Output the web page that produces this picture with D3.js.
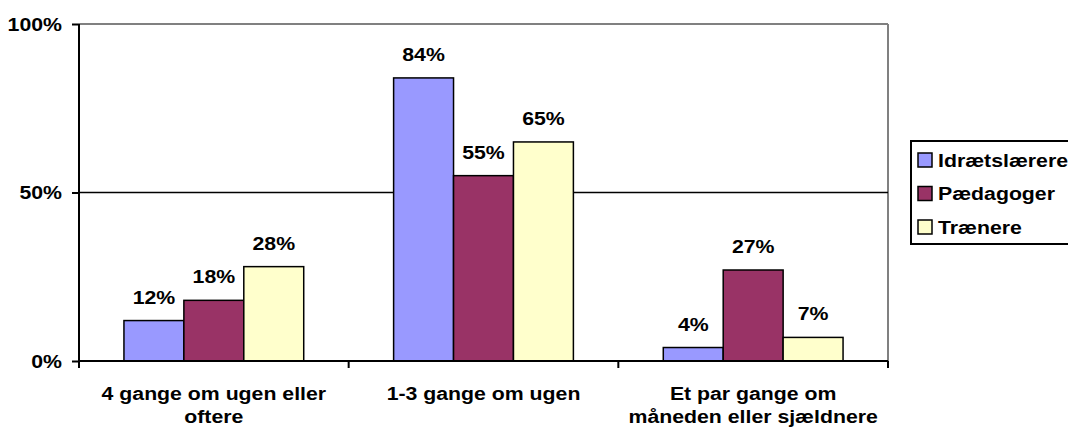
<!DOCTYPE html>
<html>
<head>
<meta charset="utf-8">
<script src="https://d3js.org/d3.v7.min.js"></script>
<style>
  body { margin: 0; background: #fff; }
  text { font-family: "Liberation Sans", Arial, sans-serif; font-weight: bold; fill: #000; font-size: 18.5px; }
</style>
</head>
<body>
<svg id="chart" width="1068" height="433"></svg>
<script>
// categories and series
var categories = [["4 gange om ugen eller", "oftere"], ["1-3 gange om ugen"], ["Et par gange om", "måneden eller sjældnere"]];
var seriesNames = ["Idrætslærere", "Pædagoger", "Trænere"];
var seriesColors = ["#9999FF", "#993366", "#FFFFCC"];
var idraet = [12, 84, 4];
var paedagoger = [18, 55, 27];
var traenere = [28, 65, 7];
var yTicks = [0, 50, 100];

var values = [idraet, paedagoger, traenere];

// the original text is a bit wider than Arial, stretch it horizontally
var stretch = 1.15;
function label(parent, px, py, lines, anchor, lineH) {
  var t = parent.append("g")
    .attr("transform", "translate(" + px + "," + py + ") scale(" + stretch + ",1)")
    .append("text")
    .attr("text-anchor", anchor);
  lines.forEach(function (ln, j) {
    t.append("tspan").attr("x", 0).attr("dy", j === 0 ? 0 : lineH).text(ln);
  });
  return t;
}

var svg = d3.select("#chart");
var margin = {left: 79, right: 1068 - 888, top: 24, bottom: 433 - 361};
var w = 1068 - margin.left - margin.right,
    h = 433 - margin.top - margin.bottom;

var g = svg.append("g").attr("transform", "translate(" + margin.left + "," + margin.top + ")");

var x = d3.scaleBand().domain(d3.range(categories.length)).range([0, w]).paddingInner(0).paddingOuter(0);
var x1 = d3.scaleBand().domain(d3.range(seriesNames.length)).range([x.bandwidth() / 6, x.bandwidth() * 5 / 6]);
var y = d3.scaleLinear().domain([0, 100]).range([h, 0]);

// plot border (top/right gray)
g.append("line").attr("x1", 0).attr("x2", w).attr("y1", 0).attr("y2", 0).attr("stroke", "#808080").attr("stroke-width", 2);
g.append("line").attr("x1", w).attr("x2", w).attr("y1", 0).attr("y2", h).attr("stroke", "#808080").attr("stroke-width", 2);

// gridline at 50%
g.append("line").attr("x1", 0).attr("x2", w).attr("y1", y(50)).attr("y2", y(50)).attr("stroke", "#000").attr("stroke-width", 1.5);

// bars
values.forEach(function (vals, si) {
  g.selectAll(".bar" + si)
    .data(vals)
    .enter().append("rect")
      .attr("x", function (d, i) { return x(i) + x1(si); })
      .attr("y", function (d) { return y(d); })
      .attr("width", x1.bandwidth())
      .attr("height", function (d) { return h - y(d); })
      .attr("fill", seriesColors[si])
      .attr("stroke", "#000")
      .attr("stroke-width", 1.5);

  vals.forEach(function (d, i) {
    label(g, x(i) + x1(si) + x1.bandwidth() / 2, y(d) - 17, [d + "%"], "middle", 0);
  });
});

// y axis
var yAxis = g.append("g").call(d3.axisLeft(y).tickValues(yTicks).tickSize(7).tickFormat(""));
yAxis.select(".domain").attr("stroke", "#000").attr("stroke-width", 2).attr("d", "M0," + h + "V0");
yAxis.selectAll(".tick line").attr("stroke", "#000").attr("stroke-width", 2);
yTicks.forEach(function (v) {
  label(g, -17, y(v) + 6.5, [v + "%"], "end", 0);
});

// x axis
var xg = g.append("g").attr("transform", "translate(0," + h + ")");
xg.append("line").attr("x1", 0).attr("x2", w).attr("stroke", "#000").attr("stroke-width", 2);
d3.range(categories.length + 1).forEach(function (i) {
  var xx = i < categories.length ? x(i) : w;
  xg.append("line").attr("x1", xx).attr("x2", xx).attr("y1", 0).attr("y2", 7).attr("stroke", "#000").attr("stroke-width", 2);
});
categories.forEach(function (lines, i) {
  label(xg, x(i) + x.bandwidth() / 2, 39, lines, "middle", 23);
});

// legend
var lg = svg.append("g").attr("transform", "translate(911,141)");
lg.append("rect").attr("x", 0).attr("y", 0).attr("width", 170).attr("height", 103)
  .attr("fill", "#fff").attr("stroke", "#000").attr("stroke-width", 2);
seriesNames.forEach(function (name, i) {
  var yy = 19 + i * 33.5;
  lg.append("rect").attr("x", 7).attr("y", yy - 7).attr("width", 14).attr("height", 14)
    .attr("fill", seriesColors[i]).attr("stroke", "#000").attr("stroke-width", 1.5);
  label(lg, 27, yy + 6.5, [name], "start", 0);
});
</script>
</body>
</html>
